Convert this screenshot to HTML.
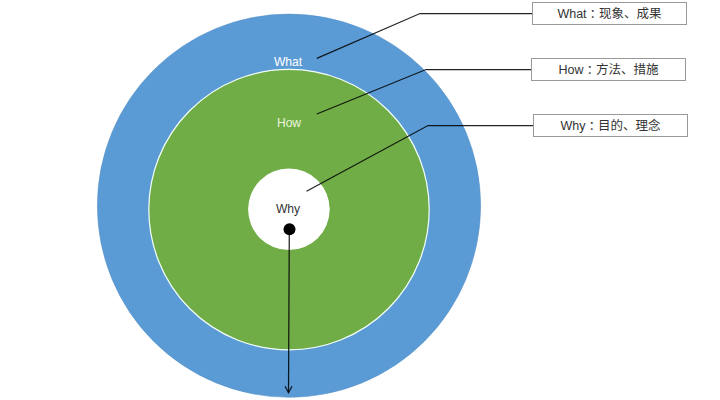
<!DOCTYPE html>
<html lang="zh">
<head>
<meta charset="utf-8">
<title>What / How / Why</title>
<style>
html,body{margin:0;padding:0;background:#fff;}
body{width:720px;height:400px;overflow:hidden;position:relative;font-family:"Liberation Sans","Noto Sans CJK SC",sans-serif;}
svg{position:absolute;left:0;top:0;display:block;}
.lbl{position:absolute;box-sizing:border-box;border:1px solid #999;background:#fff;color:#333;font-size:12.5px;line-height:20px;height:23px;width:155px;text-align:center;white-space:nowrap;}
.lbl i{font-style:normal;position:relative;top:0.8px;font-family:"Noto Sans CJK JP","Noto Sans CJK SC",sans-serif;}
.t{position:absolute;font-size:13px;line-height:14px;white-space:nowrap;transform:translateX(-50%) scaleX(0.93);}
</style>
</head>
<body>
<svg width="720" height="400" viewBox="0 0 720 400">
  <circle cx="289" cy="205.7" r="191.6" fill="#5b9bd5" stroke="#5590c8" stroke-width="0.6"/>
  <circle cx="289" cy="209.6" r="140.2" fill="#70ad47" stroke="#f4fff8" stroke-width="1.2"/>
  <circle cx="288.9" cy="209.3" r="40.8" fill="#ffffff"/>
  <g fill="none" stroke="#000" stroke-opacity="0.86" stroke-width="1.25">
    <polyline points="316.8,58.4 420,13.5 533,13.5"/>
    <polyline points="316.8,114 426,69.5 532,69.5"/>
    <polyline points="306.5,191.2 428,125.5 534,125.5"/>
    <line x1="289.3" y1="230" x2="288.5" y2="392.6"/>
    <polyline points="285,386.3 288.5,392.8 292,386.3"/>
  </g>
  <circle cx="289.5" cy="229.3" r="6" fill="#000"/>
</svg>
<div class="t" style="left:287.8px;top:54.8px;color:#fff;">What</div>
<div class="t" style="left:288.5px;top:116.3px;color:#eaf5dc;">How</div>
<div class="t" style="left:287.6px;top:202px;color:#333;">Why</div>
<div class="lbl" style="left:532px;top:2px;">What<i lang="ja">：</i>现象、成果</div>
<div class="lbl" style="left:531px;top:58px;">How<i lang="ja">：</i>方法、措施</div>
<div class="lbl" style="left:533px;top:114px;">Why<i lang="ja">：</i>目的、理念</div>
</body>
</html>
